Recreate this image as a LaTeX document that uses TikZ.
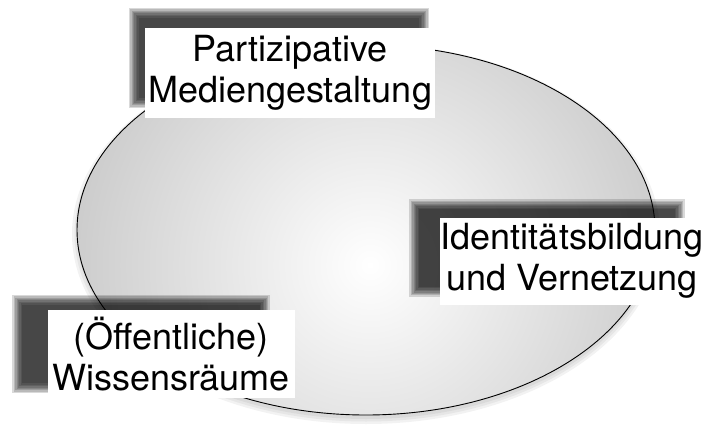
\documentclass[tikz,border=0pt]{standalone}
\usepackage{fontspec}
\setmainfont{TeX Gyre Heros}
\usetikzlibrary{backgrounds}

\def\fieldpath{(366,230) ellipse (289 and 185)}

% soft dark shadow behind a label box: node, dx, dy
\newcommand\boxshadow[3]{%
  \foreach \e in {5,3.6,2.2,0.8,-0.6,-2,-3.4,-4.8}
    \fill[black, opacity=0.15]
      ([shift={(#2-\e,#3-\e)}]#1.north west) rectangle
      ([shift={(#2+\e,#3+\e)}]#1.south east);
}

\tikzset{
  label box/.style={fill=white, align=center, inner sep=0pt,
    font=\fontsize{36}{41}\selectfont},
}

\begin{document}
\begin{tikzpicture}[x=1pt, y=-1pt]
    \useasboundingbox (0,0) rectangle (720,433);

    % the three labels
    \node[label box, minimum width=290pt, minimum height=90pt]
          (medien) at (290,73) {Partizipative\\Mediengestaltung};
    \node[label box, minimum width=265pt, minimum height=87pt]
          (identitaet) at (572,261) {Identitätsbildung\\und Vernetzung};
    \node[label box, minimum width=247pt, minimum height=88pt]
          (wissen) at (171,354) {(Öffentliche)\\Wissensräume};

    \begin{scope}[on background layer]
      % shadow under the field
      \foreach \e in {5,2.5,0}
        \fill[black, opacity=0.05, yshift=-4pt]
          (366,230) ellipse ({289+\e} and {185+\e});

      % the field, light in the lower middle
      \begin{scope}
        \clip \fieldpath;
        \shade[inner color=white, outer color=black!22]
          (370,265) circle (330);
      \end{scope}
      \draw[black, line width=0.9pt] \fieldpath;

      % shadows of the labels
      \boxshadow{medien}{-11}{-15}
      \boxshadow{identitaet}{-25}{-13}
      \boxshadow{wissen}{-30}{-10}
    \end{scope}

\end{tikzpicture}
\end{document}
